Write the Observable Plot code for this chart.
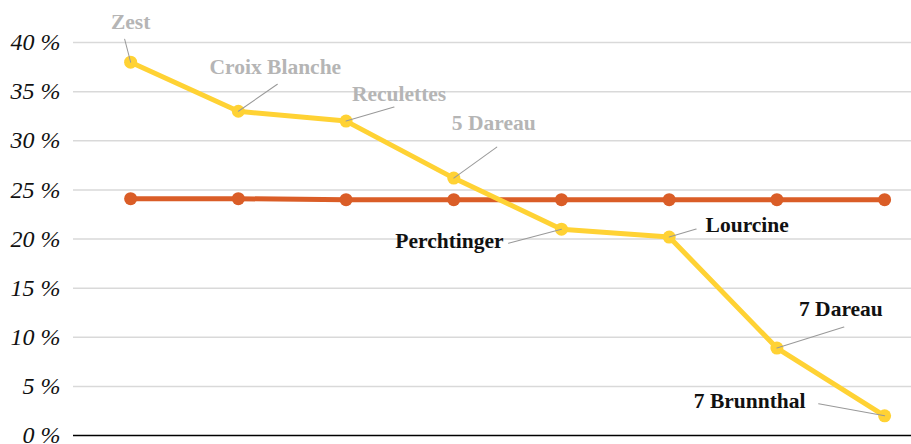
<!DOCTYPE html>
<html>
<head>
<meta charset="utf-8">
<script src="https://cdn.jsdelivr.net/npm/d3@7"></script>
<script src="https://cdn.jsdelivr.net/npm/@observablehq/plot@0.6"></script>
<style>
  html, body { margin: 0; padding: 0; background: #fff; }
  svg { display: block; }
</style>
</head>
<body>
<div id="chart"></div>
<script>
// Categories (stops)
const categories = ["Zest", "Croix Blanche", "Reculettes", "5 Dareau", "Perchtinger", "Lourcine", "7 Dareau", "7 Brunnthal"];
// Series values (%)
const yellowValues = [38, 33, 32, 26.2, 21, 20.2, 8.9, 2];
const orangeValues = [24.1, 24.1, 24.0, 24.0, 24.0, 24.0, 24.0, 24.0];
// Y tick values
const yTicks = [0, 5, 10, 15, 20, 25, 30, 35, 40];
// Label colouring: first four grey, last four black
const labelDark = [false, false, false, false, true, true, true, true];

// Annotation layout (pixel offsets from each point): text centre and leader end
const labelOffsets = [
  {dx: 0, dy: -40, lx: -6, ly: -23},
  {dx: 37, dy: -44, lx: 39, ly: -27},
  {dx: 53, dy: -27, lx: 48, ly: -14},
  {dx: 40, dy: -55, lx: 43, ly: -31},
  {dx: -112, dy: 12, lx: -53, ly: 14},
  {dx: 78, dy: -12, lx: 27, ly: -8},
  {dx: 64, dy: -39, lx: 67, ly: -21},
  {dx: -135, dy: -15, lx: -66, ly: -12}
];

const yellow = categories.map((c, i) => ({cat: c, v: yellowValues[i], dark: labelDark[i], ...labelOffsets[i]}));
const orange = categories.map((c, i) => ({cat: c, v: orangeValues[i]}));
const leaders = yellow.map(d => ({
  ...d,
  len: Math.hypot(d.lx, d.ly),
  rot: Math.atan2(d.lx, -d.ly) * 180 / Math.PI
}));

const YEL = "#FFD234";
const ORA = "#DA5D27";
const FONT = "'Liberation Serif', 'DejaVu Serif', serif";

const lineShape = {
  draw(context, l) { context.moveTo(0, 0); context.lineTo(0, -l); }
};

const marks = [
  Plot.ruleY(yTicks.filter(t => t > 0), {stroke: "#d9d9d9", strokeWidth: 1.5}),
  Plot.ruleY([0], {stroke: "#000", strokeWidth: 1.5}),
  Plot.line(orange, {x: "cat", y: "v", stroke: ORA, strokeWidth: 5}),
  Plot.dot(orange, {x: "cat", y: "v", r: 6.5, fill: ORA}),
  Plot.line(yellow, {x: "cat", y: "v", stroke: YEL, strokeWidth: 5}),
  Plot.dot(yellow, {x: "cat", y: "v", r: 6.5, fill: YEL}),
  Plot.vector(leaders, {x: "cat", y: "v", length: "len", rotate: "rot", anchor: "start", shape: lineShape, stroke: "#999", strokeWidth: 1})
];
for (const d of yellow) {
  marks.push(Plot.text([d], {
    x: "cat", y: "v", text: "cat", dx: d.dx, dy: d.dy,
    fill: d.dark ? "#111" : "#b5b5b5",
    fontSize: 21.5, fontWeight: "bold", fontFamily: FONT,
    textAnchor: "middle", lineAnchor: "middle"
  }));
}

const chart = Plot.plot({
  width: 911,
  height: 444,
  marginLeft: 73,
  marginRight: 0,
  marginTop: 42,
  marginBottom: 9,
  style: {fontFamily: FONT, background: "#fff", overflow: "visible"},
  x: {type: "point", domain: categories, padding: 0.39, align: 0.68, round: false, axis: null},
  y: {domain: [0, 40], ticks: yTicks, tickSize: 0, tickPadding: 13, tickFormat: d => d + " %", label: null},
  length: {type: "identity"},
  marks: [
    ...marks,
    Plot.axisY({ticks: yTicks, tickSize: 0, tickPadding: 13, tickFormat: d => d + " %", fontSize: 24, fontStyle: "italic", fontFamily: FONT, fill: "#111", label: null})
  ]
});
document.getElementById("chart").appendChild(chart);
</script>
</body>
</html>
